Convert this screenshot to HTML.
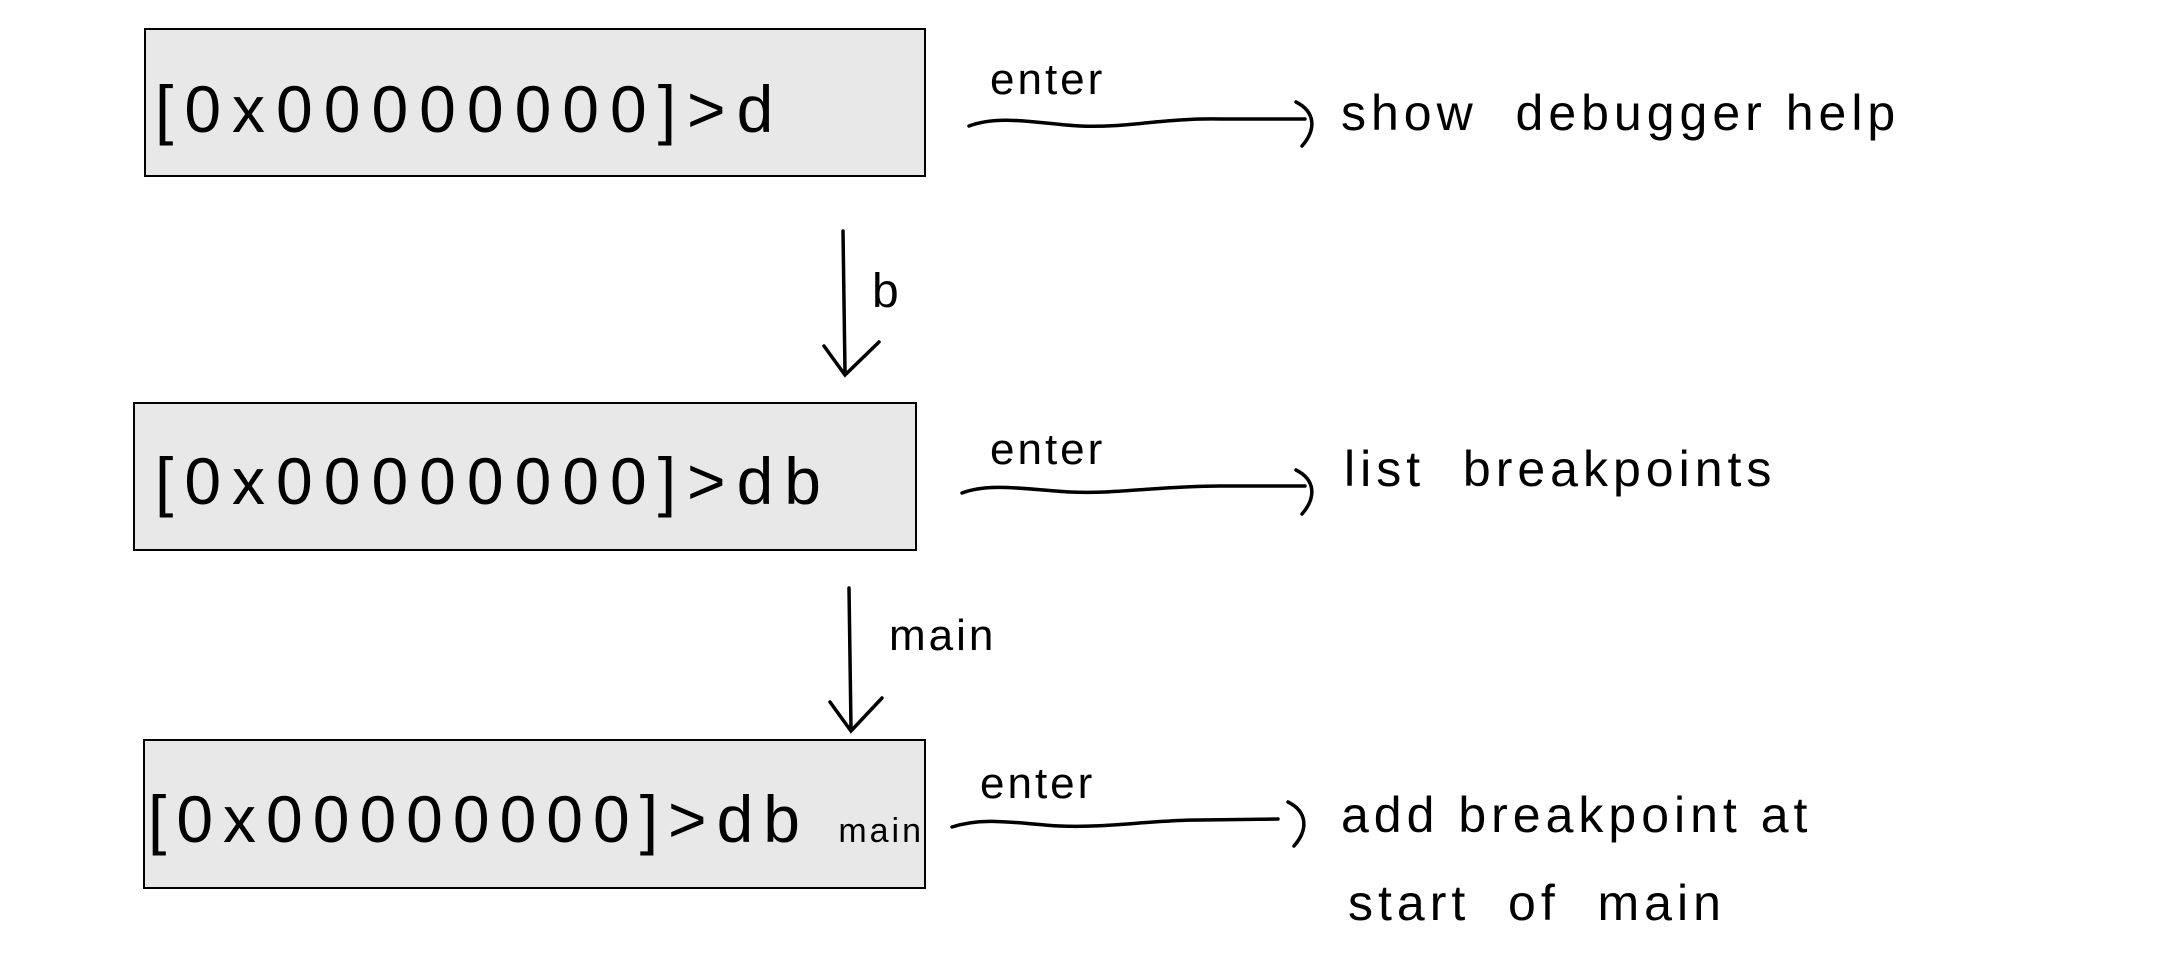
<!DOCTYPE html>
<html><head><meta charset="utf-8"><style>
html,body{margin:0;padding:0;background:#fff;}
body{width:2183px;height:961px;position:relative;overflow:hidden;font-family:"Liberation Sans",sans-serif;color:#000;}
.box{position:absolute;background:#e8e8e8;border:2.5px solid #000;box-sizing:border-box;}
.t{position:absolute;white-space:nowrap;line-height:1;}
.bt{font-size:66px;letter-spacing:11px;}
.lab{font-size:50px;letter-spacing:5px;}
.en{font-size:44px;letter-spacing:3px;}
</style></head><body>
<div class="box" style="left:144px;top:28px;width:782px;height:149px"></div>
<div class="box" style="left:133px;top:402px;width:784px;height:149px"></div>
<div class="box" style="left:143px;top:739px;width:783px;height:150px"></div>

<div class="t bt" style="left:155px;top:76px">[0x00000000]&gt;d</div>
<div class="t bt" style="left:155px;top:448px">[0x00000000]&gt;db</div>
<div class="t bt" style="left:148px;top:786px;letter-spacing:10px">[0x00000000]&gt;db <span style="font-size:34px;letter-spacing:3px">main</span></div>

<div class="t en" style="left:990px;top:58px">enter</div>
<div class="t en" style="left:990px;top:428px">enter</div>
<div class="t en" style="left:980px;top:762px">enter</div>

<div class="t lab" style="left:1341px;top:88px">show&nbsp; debugger help</div>
<div class="t lab" style="left:1344px;top:444px">list&nbsp; breakpoints</div>
<div class="t lab" style="left:1341px;top:790px">add breakpoint at</div>
<div class="t lab" style="left:1348px;top:878px">start&nbsp; of&nbsp; main</div>

<div class="t en" style="left:872px;top:268px;font-size:48px">b</div>
<div class="t en" style="left:889px;top:614px">main</div>

<svg width="2183" height="961" style="position:absolute;left:0;top:0" fill="none" stroke="#000" stroke-width="3.5" stroke-linecap="round">
<path d="M969 126 C1000 114,1040 124,1080 126 C1130 128,1160 118,1220 119 L1305 119"/>
<path d="M1296 102 C1316 112,1316 130,1302 146"/>
<path d="M962 493 C990 482,1030 490,1070 492 C1120 494,1160 486,1220 486 L1305 486"/>
<path d="M1296 470 C1316 480,1316 498,1302 514"/>
<path d="M952 827 C985 816,1020 824,1060 826 C1110 828,1150 820,1200 820 L1278 819"/>
<path d="M1288 802 C1308 812,1308 830,1294 846"/>
<path d="M843 231 L845 372"/>
<path d="M824 346 L845 375 L879 342"/>
<path d="M849 588 L851 728"/>
<path d="M830 702 L851 731 L882 698"/>
</svg>
</body></html>
